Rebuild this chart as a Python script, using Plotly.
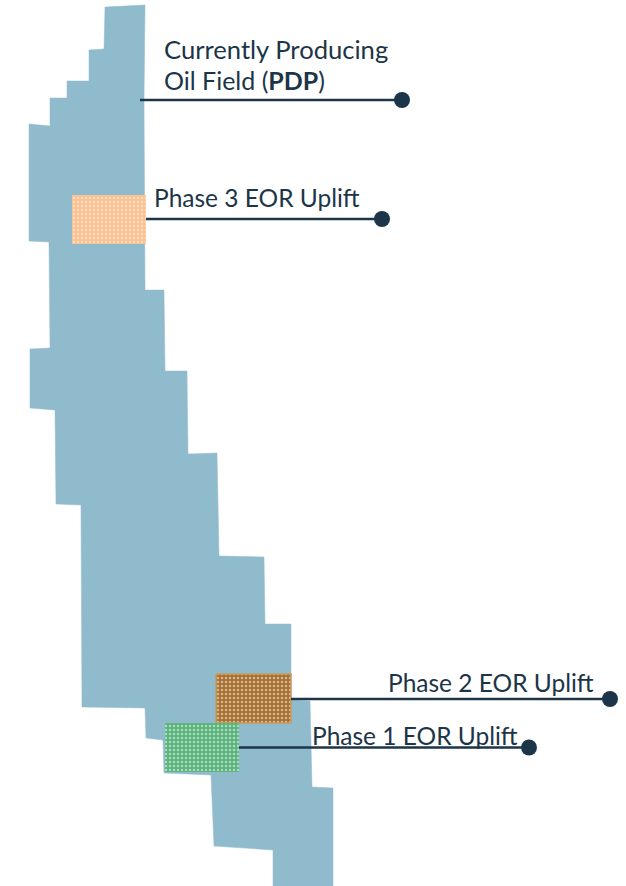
import plotly.graph_objects as go

field_x = [105,145,144,145,164,165,187,188,217,219,264,265,291,291,310,312,333,333,273,273,214,211,164,163,146,145,82,81,56,55,30,30,50,49,29,29,50,50,67,67,89,89,104,105]
field_y = [7,5,100,290,290,371,371,454,453,556,557,624,624,700,701,787,788,886,886,850,846,775,773,740,738,708,707,505,504,410,408,349,348,242,241,124,126,98,98,81,81,50,49,7]

phase_names = ["Phase 3 EOR Uplift", "Phase 2 EOR Uplift", "Phase 1 EOR Uplift"]
phase_left = [72, 216, 165]
phase_right = [146, 291, 239]
phase_top = [195, 674, 723]
phase_bottom = [244, 723, 772]
phase_colors = ["#fdc08f", "#a8702f", "#5bb37c"]
phase_edges = ["#fdc08f", "#c79a5c", "#5bb37c"]
phase_edge_widths = [0, 1.5, 0]

leader_start = [140, 146, 291, 239]
leader_end = [402, 382, 610, 529]
leader_y = [100, 219, 699, 747.5]

label_text = ["Currently Producing", "Oil Field (<b>PDP</b>)", "Phase 3 EOR Uplift", "Phase 2 EOR Uplift", "Phase 1 EOR Uplift"]
label_x = [164, 164, 154, 388, 312]
label_y = [53, 84, 201, 686, 739]
label_sizes = [25.6, 25, 24.5, 24.5, 24.5]

FIELD = "#90bbcd"
INK = "#1c3549"
FONT = "Lato"

fig = go.Figure()
fig.add_trace(go.Scatter(x=field_x, y=field_y, mode="lines", fill="toself", fillcolor=FIELD,
                         line=dict(color=FIELD, width=0.5), hoverinfo="skip", showlegend=False))
for n, l, r, t, b, c, e, w in zip(phase_names, phase_left, phase_right, phase_top, phase_bottom, phase_colors, phase_edges, phase_edge_widths):
    fig.add_trace(go.Scatter(x=[l, r, r, l, l], y=[t, t, b, b, t], mode="lines", fill="toself", name=n,
                             fillcolor=c, line=dict(color=e, width=w),
                             fillpattern=dict(shape=".", fgcolor="#ffffff", bgcolor=c, size=4, solidity=0.3),
                             showlegend=False))
for s, e, y in zip(leader_start, leader_end, leader_y):
    fig.add_trace(go.Scatter(x=[s, e], y=[y, y], mode="lines", line=dict(color=INK, width=2.5),
                             hoverinfo="skip", showlegend=False))
fig.add_trace(go.Scatter(x=leader_end, y=leader_y, mode="markers", marker=dict(color=INK, size=16, opacity=1),
                         hoverinfo="skip", showlegend=False))
fig.add_trace(go.Scatter(x=label_x, y=label_y, mode="text", text=label_text, textposition="middle right",
                         textfont=dict(family=FONT, size=label_sizes, color=INK), hoverinfo="skip", showlegend=False))

fig.update_layout(width=626, height=886, margin=dict(l=0, r=0, t=0, b=0),
                  paper_bgcolor="white", plot_bgcolor="white",
                  xaxis=dict(range=[0, 626], visible=False),
                  yaxis=dict(range=[886, 0], visible=False))
fig.write_html("out.html", config=dict(displayModeBar=False),
               post_script="document.body.style.margin='0';document.documentElement.style.overflow='hidden';")
